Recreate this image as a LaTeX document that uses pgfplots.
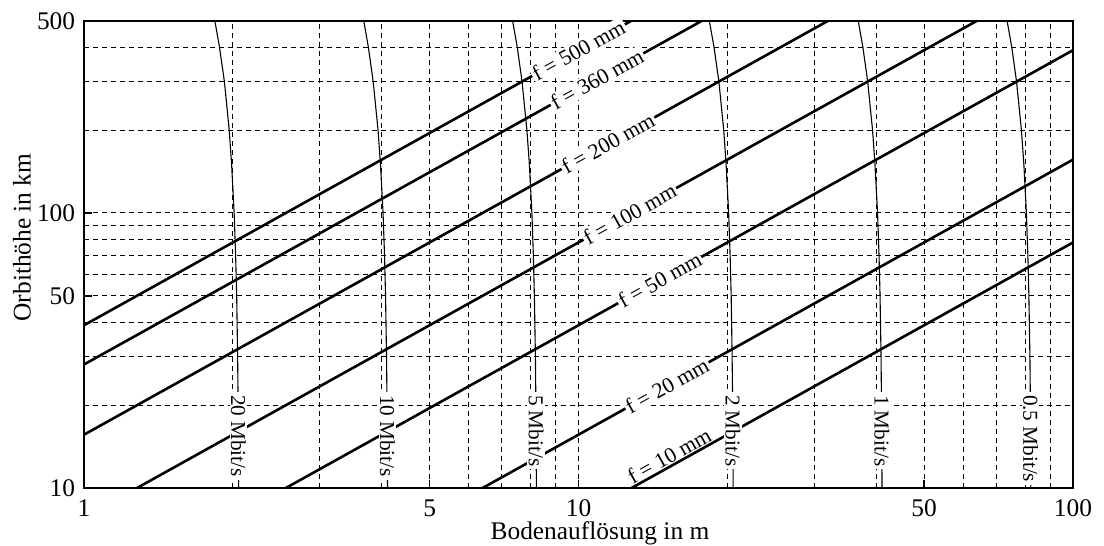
\documentclass[border=0pt]{standalone}
\usepackage{fontspec}
\setmainfont{Liberation Serif}
\usepackage{pgfplots}
\pgfplotsset{compat=1.18}
\begin{document}
\fontsize{12.7bp}{15bp}\selectfont
\begin{tikzpicture}
\begin{axis}[
  scale only axis, width=494.5bp, height=233.65bp,
  xmode=log, ymode=log,
  xmin=1, xmax=100, ymin=10, ymax=500,
  xtick={1,5,10,50,100}, xticklabels={1,5,10,50,100},
  ytick={10,50,100,500}, yticklabels={10,50,100,500},
  minor xtick={2,3,4,6,7,8,9,20,30,40,60,70,80,90},
  minor ytick={20,30,40,60,70,80,90,200,300,400},
  grid=both,
  major grid style={black, line width=0.45bp, dash pattern=on 2.5bp off 2bp},
  minor grid style={black, line width=0.45bp, dash pattern=on 2.5bp off 2bp},
  tick pos=left, tick align=inside,
  major tick length=4bp, minor tick length=0pt,
  tick style={black, line width=0.8bp},
  axis line style={black, line width=1bp},
  xticklabel style={yshift=-1.5bp},
  xlabel={Bodenauflösung in m},
  ylabel={Orbithöhe in km},
  xlabel style={at={(axis description cs:0.5217,-0.0963)}, anchor=center},
  ylabel style={at={(axis description cs:-0.0627,0.536)}, anchor=center},
  clip=true,
]
\coordinate (SW) at (rel axis cs:0,0);
\coordinate (NE) at (rel axis cs:1,1);
% focal length lines  h = x * f / 12.8
\addplot[black, line width=1.3bp] coordinates {(12.8,10) (100,78.125)};
\addplot[black, line width=1.3bp] coordinates {(6.4,10) (100,156.25)};
\addplot[black, line width=1.3bp] coordinates {(2.56,10) (100,390.625)};
\addplot[black, line width=1.3bp] coordinates {(1.28,10) (64,500)};
\addplot[black, line width=1.3bp] coordinates {(1,15.625) (32,500)};
\addplot[black, line width=1.3bp] coordinates {(1,28.125) (17.78,500)};
\addplot[black, line width=1.3bp] coordinates {(1,39.0625) (12.8,500)};
% data rate curves
\addplot[black, line width=0.55bp] coordinates {(2.055,10) (2.050,20) (2.045,30) (2.036,50) (2.026,70) (2.012,100) (1.989,150) (1.967,200) (1.923,300) (1.880,400) (1.839,500)};
\addplot[black, line width=0.55bp] coordinates {(4.110,10) (4.100,20) (4.091,30) (4.072,50) (4.053,70) (4.025,100) (3.978,150) (3.933,200) (3.845,300) (3.760,400) (3.679,500)};
\addplot[black, line width=0.55bp] coordinates {(8.220,10) (8.201,20) (8.182,30) (8.143,50) (8.105,70) (8.049,100) (7.957,150) (7.866,200) (7.690,300) (7.521,400) (7.357,500)};
\addplot[black, line width=0.55bp] coordinates {(20.55,10) (20.50,20) (20.45,30) (20.36,50) (20.26,70) (20.12,100) (19.89,150) (19.67,200) (19.23,300) (18.80,400) (18.39,500)};
\addplot[black, line width=0.55bp] coordinates {(41.10,10) (41.00,20) (40.91,30) (40.72,50) (40.53,70) (40.25,100) (39.78,150) (39.33,200) (38.45,300) (37.60,400) (36.79,500)};
\addplot[black, line width=0.55bp] coordinates {(82.20,10) (82.01,20) (81.82,30) (81.43,50) (81.05,70) (80.49,100) (79.57,150) (78.66,200) (76.90,300) (75.21,400) (73.57,500)};
% labels on focal lines
\tikzset{flab/.style={rotate=29.08, fill=white, inner sep=0.8pt, font=\fontsize{10.9bp}{12bp}\selectfont}}
\node[flab] at (axis cs:10,390.6) {f = 500 mm};
\node[flab] at (axis cs:10.9,306.6) {f = 360 mm};
\node[flab] at (axis cs:11.47,179.2) {f = 200 mm};
\node[flab] at (axis cs:12.7,99.2) {f = 100 mm};
\node[flab] at (axis cs:14.6,57.0) {f = 50 mm};
\node[flab] at (axis cs:15.1,23.6) {f = 20 mm};
\node[flab, anchor=south, fill=none] at (axis cs:15.6,12.2) {f = 10 mm};
% labels on rate curves
\tikzset{rlab/.style={rotate=-90, anchor=west, fill=white, inner xsep=1.5pt, inner ysep=0.6pt, font=\fontsize{10.6bp}{12bp}\selectfont}}
\node[rlab] at (axis cs:2.053,22.4) {20 Mbit/s};
\node[rlab] at (axis cs:4.105,22.4) {10 Mbit/s};
\node[rlab] at (axis cs:8.21,22.4) {5 Mbit/s};
\node[rlab] at (axis cs:20.52,22.4) {2 Mbit/s};
\node[rlab] at (axis cs:41.05,22.4) {1 Mbit/s};
\node[rlab] at (axis cs:82.1,22.4) {0.5 Mbit/s};
\end{axis}
\pgfresetboundingbox
\useasboundingbox ([shift={(-42bp,-29bp)}]SW) rectangle ([shift={(15.5bp,10.35bp)}]NE);
\end{tikzpicture}
\end{document}
